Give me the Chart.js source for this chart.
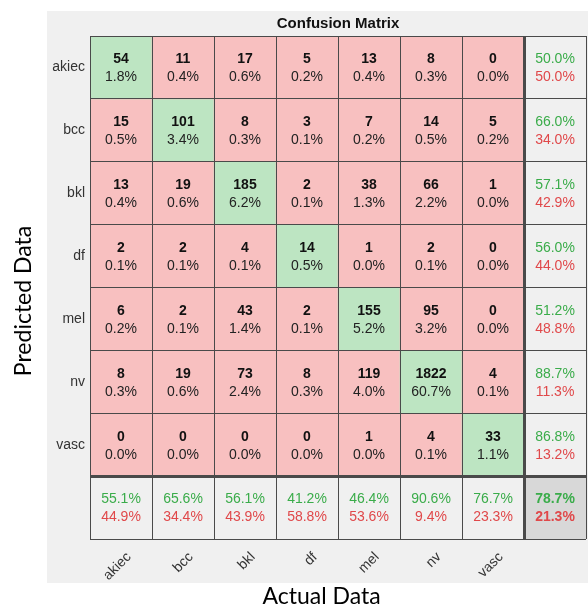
<!DOCTYPE html>
<html>
<head>
<meta charset="utf-8">
<script src="https://cdn.jsdelivr.net/npm/chart.js@4.4.1/dist/chart.umd.min.js"></script>
<style>
  html, body { margin: 0; padding: 0; background: #fff; }
  #wrap { width: 588px; height: 606px; }
</style>
</head>
<body>
<div id="wrap"><canvas id="cm" width="588" height="606"></canvas></div>
<script>
/* confusion matrix: rows = predicted, cols = actual */

var classNames = ['akiec', 'bcc', 'bkl', 'df', 'mel', 'nv', 'vasc'];

var rowAkiec = [54, 11, 17, 5, 13, 8, 0];
var rowBcc   = [15, 101, 8, 3, 7, 14, 5];
var rowBkl   = [13, 19, 185, 2, 38, 66, 1];
var rowDf    = [2, 2, 4, 14, 1, 2, 0];
var rowMel   = [6, 2, 43, 2, 155, 95, 0];
var rowNv    = [8, 19, 73, 8, 119, 1822, 4];
var rowVasc  = [0, 0, 0, 0, 1, 4, 33];
var countRows = [rowAkiec, rowBcc, rowBkl, rowDf, rowMel, rowNv, rowVasc];

// right column (per predicted class) and bottom row (per actual class)
var rowGood = ['50.0%', '66.0%', '57.1%', '56.0%', '51.2%', '88.7%', '86.8%'];
var rowBad  = ['50.0%', '34.0%', '42.9%', '44.0%', '48.8%', '11.3%', '13.2%'];
var colGood = ['55.1%', '65.6%', '56.1%', '41.2%', '46.4%', '90.6%', '76.7%'];
var colBad  = ['44.9%', '34.4%', '43.9%', '58.8%', '53.6%', '9.4%', '23.3%'];
var totalGood = '78.7%';
var totalBad  = '21.3%';

var GREEN_CELL = '#bde5c2';
var RED_CELL   = '#f8c0c0';
var GRAY_CELL  = '#f0f0f0';
var DARK_CELL  = '#d8d8d8';
var GREEN_TXT  = '#3aac4a';
var RED_TXT    = '#e0484a';
var LINE_COL   = '#4a4a4a';

var n = classNames.length;
var axisLabels = classNames.concat(['']);
var total = 0;
countRows.forEach(function(r) { r.forEach(function(v) { total += v; }); });

function cellColor(r, c) {
  if (r === n && c === n) return DARK_CELL;
  if (r === n || c === n) return GRAY_CELL;
  return r === c ? GREEN_CELL : RED_CELL;
}

var datasets = [];
for (var r = 0; r <= n; r++) {
  var d = [], cols = [];
  for (var c = 0; c <= n; c++) {
    d.push([r, r + 1]);
    cols.push(cellColor(r, c));
  }
  datasets.push({
    data: d,
    backgroundColor: cols,
    borderWidth: 0,
    barPercentage: 1,
    categoryPercentage: 1,
    grouped: false
  });
}

var panelPlugin = {
  id: 'panel',
  beforeDraw: function(chart) {
    var ctx = chart.ctx, a = chart.chartArea;
    ctx.save();
    ctx.fillStyle = GRAY_CELL;
    ctx.fillRect(a.left - 43, a.top - 25, chart.width - (a.left - 43), (a.bottom + 44) - (a.top - 25));
    ctx.restore();
  },
  afterDraw: function(chart) {
    var ctx = chart.ctx, a = chart.chartArea;
    ctx.save();
    ctx.textAlign = 'center';
    ctx.textBaseline = 'middle';
    chart.data.datasets.forEach(function(ds, r) {
      var meta = chart.getDatasetMeta(r);
      meta.data.forEach(function(bar, c) {
        var cx = bar.x, cy = (bar.y + bar.base) / 2;
        if (r < n && c < n) {
          var v = countRows[r][c];
          ctx.fillStyle = '#111';
          ctx.font = 'bold 14px "Liberation Sans", Arial, sans-serif';
          ctx.fillText(String(v), cx, cy - 8);
          ctx.fillStyle = '#222';
          ctx.font = '14px "Liberation Sans", Arial, sans-serif';
          ctx.fillText((v / total * 100).toFixed(1) + '%', cx, cy + 10);
        } else {
          var g, b, f = '14px "Liberation Sans", Arial, sans-serif';
          if (r < n) { g = rowGood[r]; b = rowBad[r]; }
          else if (c < n) { g = colGood[c]; b = colBad[c]; }
          else { g = totalGood; b = totalBad; f = 'bold 14px "Liberation Sans", Arial, sans-serif'; }
          ctx.font = f;
          ctx.fillStyle = GREEN_TXT;
          ctx.fillText(g, cx, cy - 8);
          ctx.fillStyle = RED_TXT;
          ctx.fillText(b, cx, cy + 10);
        }
      });
    });

    // axis titles, centred on the grey panel
    var pl = a.left - 43, pt = a.top - 25, pb = a.bottom + 44;
    ctx.fillStyle = '#000';
    ctx.font = '23px Lato, "Open Sans", sans-serif';
    ctx.fillText('Actual Data', (pl + chart.width) / 2 + 4, pb + 14);
    ctx.translate(24, (pt + pb) / 2 + 4);
    ctx.rotate(-Math.PI / 2);
    ctx.fillText('Predicted Data', 0, 0);
    ctx.restore();
  }
};

Chart.defaults.font.family = '"Liberation Sans", Arial, sans-serif';

new Chart(document.getElementById('cm'), {
  type: 'bar',
  data: { labels: axisLabels, datasets: datasets },
  plugins: [panelPlugin],
  options: {
    responsive: false,
    animation: false,
    layout: { padding: { left: 0, right: 2, top: 0, bottom: 0 } },
    plugins: {
      legend: { display: false },
      tooltip: { enabled: false },
      title: {
        display: true,
        text: 'Confusion Matrix',
        fullSize: false,
        color: '#111',
        font: { size: 15, weight: 'bold' },
        padding: { top: 15, bottom: 3 }
      }
    },
    scales: {
      x: {
        type: 'category',
        offset: true,
        border: { display: false },
        grid: {
          offset: true,
          z: 1,
          color: LINE_COL,
          lineWidth: function(ctx) { return ctx.index === n ? 3 : 1; },
          drawTicks: false
        },
        ticks: {
          color: '#333',
          font: { size: 14 },
          minRotation: 45,
          maxRotation: 45,
          padding: 10,
          labelOffset: 8
        },
        afterFit: function(s) { s.height = 67; }
      },
      y: {
        min: 0,
        max: n + 1,
        reverse: true,
        border: { display: false },
        afterBuildTicks: function(s) {
          s.ticks = axisLabels.map(function(_, i) { return { value: i + 0.5 }; });
        },
        grid: {
          offset: true,
          z: 1,
          color: LINE_COL,
          lineWidth: function(ctx) { return ctx.index === n ? 3 : 1; },
          drawTicks: false
        },
        ticks: {
          color: '#333',
          font: { size: 14 },
          padding: 5,
          callback: function(v, i) { return axisLabels[i]; }
        },
        afterFit: function(s) { s.width = 90; }
      }
    }
  }
});
</script>
</body>
</html>
